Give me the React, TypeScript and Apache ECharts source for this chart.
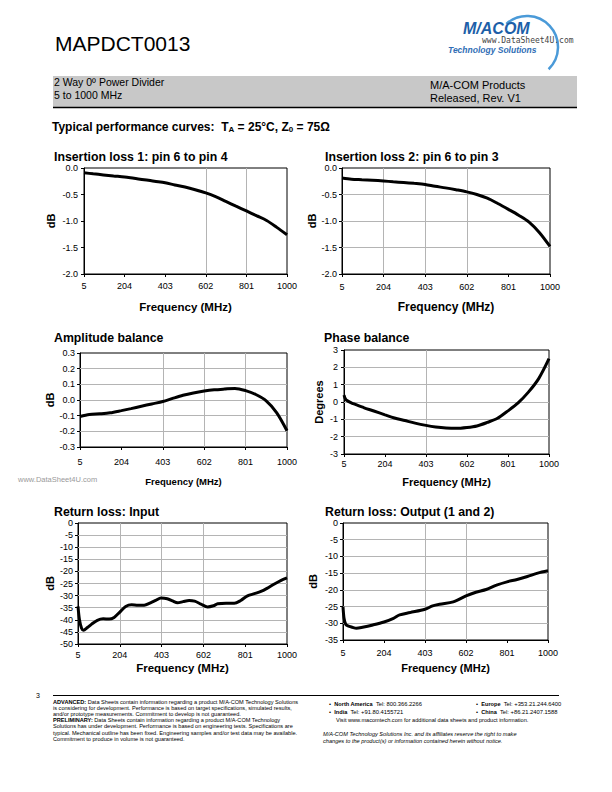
import React, { useEffect, useRef } from "react";
import * as echarts from "echarts";

// ---------- data ----------
const X_MIN = 5;
const X_TICK_LABELS = ["5", "204", "403", "602", "801", "1000"];

const IL1_FREQ = [5, 50, 100, 150, 204, 250, 300, 350, 403, 450, 500, 550, 602, 650, 700, 750, 801, 850, 900, 950, 1000];
const IL1_DB = [-0.09, -0.11, -0.13, -0.15, -0.17, -0.195, -0.22, -0.25, -0.28, -0.32, -0.36, -0.41, -0.47, -0.54, -0.63, -0.72, -0.81, -0.9, -0.99, -1.12, -1.26];

const IL2_FREQ = [5, 50, 100, 150, 204, 250, 300, 350, 403, 450, 500, 550, 602, 650, 700, 750, 801, 850, 900, 950, 1000];
const IL2_DB = [-0.19, -0.21, -0.22, -0.23, -0.245, -0.26, -0.275, -0.29, -0.31, -0.345, -0.375, -0.41, -0.45, -0.5, -0.57, -0.67, -0.78, -0.89, -1.02, -1.22, -1.48];

const AMP_FREQ = [5, 50, 100, 150, 204, 250, 300, 350, 403, 450, 500, 550, 602, 650, 700, 750, 801, 850, 900, 950, 1000];
const AMP_DB = [-0.105, -0.092, -0.088, -0.082, -0.068, -0.055, -0.04, -0.025, -0.01, 0.01, 0.03, 0.045, 0.057, 0.065, 0.07, 0.074, 0.06, 0.035, -0.005, -0.08, -0.196];

const PH_FREQ = [5, 15, 50, 100, 150, 204, 250, 300, 350, 403, 450, 500, 550, 602, 650, 700, 750, 801, 850, 900, 950, 1000];
const PH_DEG = [0.4, 0.12, -0.1, -0.32, -0.52, -0.74, -0.92, -1.07, -1.22, -1.35, -1.44, -1.5, -1.52, -1.47, -1.38, -1.18, -0.94, -0.51, -0.05, 0.57, 1.35, 2.5];

const RLI_FREQ = [5, 12, 22, 31, 50, 70, 97, 125, 153, 177, 204, 232, 260, 290, 320, 350, 375, 400, 430, 455, 479, 505, 534, 560, 590, 622, 650, 670, 710, 749, 780, 812, 845, 876, 905, 940, 970, 1000];
const RLI_DB = [-34.5, -40, -43.5, -44.3, -43.2, -41.8, -40.2, -39.6, -39.7, -39, -36.8, -34.5, -33.8, -34, -34, -33, -32, -31, -31.3, -32.2, -33, -32.5, -32, -32.3, -33.5, -34.7, -34.2, -33.4, -33.2, -33.2, -32, -30.1, -29.2, -28.3, -27, -25.2, -23.8, -22.7];

const RLO_FREQ = [5, 10, 18, 29, 50, 70, 100, 150, 204, 250, 280, 330, 403, 440, 474, 540, 602, 650, 700, 750, 801, 850, 900, 950, 1000];
const RLO_DB = [-25, -28.5, -30.3, -30.8, -31.2, -31.5, -31.2, -30.5, -29.6, -28.5, -27.5, -26.8, -25.8, -24.8, -24.3, -23.6, -21.8, -20.7, -19.9, -18.6, -17.6, -16.9, -16.0, -15.0, -14.3];

// gridlines visible in each reference chart
const GRID_X = [[602, 801], [204, 403, 602], [403, 602, 801], [403], [204, 403, 602], [403, 602]];
const GRID_Y = [[], [-0.5, -1.0, -1.5], [0.2, 0.1, 0.0, -0.1, -0.2], [2, 1, 0, -1, -2], [-5, -10, -15, -20, -25, -30, -35, -40, -45], [-5, -10, -15, -20, -25, -30]];

const TITLES = [
  "Insertion loss 1: pin 6 to pin 4",
  "Insertion loss 2: pin 6 to pin 3",
  "Amplitude balance",
  "Phase balance",
  "Return loss: Input",
  "Return loss: Output (1 and 2)",
];
const Y_NAMES = ["dB", "dB", "dB", "Degrees", "dB", "dB"];
const X_NAME = "Frequency (MHz)";

const FONT = "Arial, 'Liberation Sans', Helvetica, sans-serif";

export default function App() {
  const ref = useRef<HTMLDivElement>(null);

  useEffect(() => {
    if (!ref.current) return;
    const chart = echarts.init(ref.current, undefined, { renderer: "svg" });

    const charts = [
      { f: IL1_FREQ, v: IL1_DB, yMin: -2, yMax: 0, yInt: 0.5, dec: 1, grid: { left: 84, top: 168, width: 203, height: 106 }, yGap: 28, xGap: 27, xFont: 11.5, xLabMargin: 7, yLabMargin: 6, tx: 54, ty: 156.5 },
      { f: IL2_FREQ, v: IL2_DB, yMin: -2, yMax: 0, yInt: 0.5, dec: 1, grid: { left: 342, top: 168, width: 208, height: 106 }, yGap: 25, xGap: 27, xFont: 12, xLabMargin: 8, yLabMargin: 5, tx: 325, ty: 156.5 },
      { f: AMP_FREQ, v: AMP_DB, yMin: -0.3, yMax: 0.3, yInt: 0.1, dec: 1, grid: { left: 80, top: 353, width: 207, height: 94 }, yGap: 24, xGap: 29, xFont: 9.5, xLabMargin: 10, yLabMargin: 5, tx: 54, ty: 337.5 },
      { f: PH_FREQ, v: PH_DEG, yMin: -3, yMax: 3, yInt: 1, dec: 0, grid: { left: 344, top: 350, width: 205, height: 104 }, yGap: 20, xGap: 22, xFont: 11, xLabMargin: 5, yLabMargin: 6, tx: 324, ty: 337.5 },
      { f: RLI_FREQ, v: RLI_DB, yMin: -50, yMax: 0, yInt: 5, dec: 0, grid: { left: 78, top: 523, width: 209, height: 121 }, yGap: 23, xGap: 18, xFont: 11.5, xLabMargin: 6, yLabMargin: 5, tx: 54, ty: 511.5 },
      { f: RLO_FREQ, v: RLO_DB, yMin: -35, yMax: 0, yInt: 5, dec: 0, grid: { left: 343, top: 523, width: 205, height: 117 }, yGap: 25, xGap: 22, xFont: 11, xLabMargin: 8, yLabMargin: 5, tx: 325, ty: 511.5 },
    ];

    const fmtY = (dec: number) => (val: number) => {
      const r = Math.abs(val) < 1e-9 ? 0 : val;
      return dec > 0 ? r.toFixed(dec) : String(Math.round(r));
    };

    const grids = charts.map((c) => ({
      ...c.grid,
      show: true,
      borderColor: "#000",
      borderWidth: 1,
      containLabel: false,
    }));

    const xAxes = charts.map((c, i) => ({
      type: "value",
      gridIndex: i,
      min: 0,
      max: 1000 - X_MIN,
      interval: 199,
      axisLine: { show: true, onZero: false, lineStyle: { color: "#000", width: 1 } },
      axisTick: { show: true, length: 3, lineStyle: { color: "#000" } },
      axisLabel: {
        fontSize: 9,
        color: "#000",
        fontFamily: FONT,
        margin: c.xLabMargin,
        formatter: (_v: number, idx: number) => X_TICK_LABELS[idx] ?? "",
      },
      splitLine: { show: false },
      name: X_NAME,
      nameLocation: "middle",
      nameGap: c.xGap,
      nameTextStyle: { fontSize: c.xFont, fontWeight: "bold", color: "#000", fontFamily: FONT },
    }));

    const yAxes = charts.map((c, i) => ({
      type: "value",
      gridIndex: i,
      min: c.yMin,
      max: c.yMax,
      interval: c.yInt,
      axisLine: { show: true, onZero: false, lineStyle: { color: "#000", width: 1 } },
      axisTick: { show: true, length: 3, lineStyle: { color: "#000" } },
      axisLabel: { fontSize: 9, color: "#000", fontFamily: FONT, margin: c.yLabMargin, formatter: fmtY(c.dec) },
      splitLine: { show: false },
      name: Y_NAMES[i],
      nameLocation: "middle",
      nameRotate: 90,
      nameGap: c.yGap,
      nameTextStyle: { fontSize: 11, fontWeight: "bold", color: "#000", fontFamily: FONT },
    }));

    const series = charts.map((c, i) => ({
      type: "line",
      xAxisIndex: i,
      yAxisIndex: i,
      data: c.f.map((f, k) => [f - X_MIN, c.v[k]]),
      showSymbol: false,
      smooth: 0.3,
      z: 3,
      lineStyle: { color: "#000", width: 3 },
      markLine: {
        silent: true,
        z: 1,
        symbol: ["none", "none"],
        label: { show: false },
        lineStyle: { color: "#b4b4b4", type: "solid", width: 1 },
        data: [
          ...GRID_X[i].map((x) => ({ xAxis: x - X_MIN })),
          ...GRID_Y[i].map((y) => ({ yAxis: y })),
        ],
      },
    }));

    const titleTexts = charts.map((c, i) => ({
      type: "text",
      x: c.tx,
      y: c.ty,
      style: { text: TITLES[i], fill: "#000", font: `bold 12.3px ${FONT}`, verticalAlign: "middle" },
    }));

    const footLeft = [
      "{b|ADVANCED:} Data Sheets contain information regarding a product M/A-COM Technology Solutions",
      "is considering for development. Performance is based on target specifications, simulated results,",
      "and/or prototype measurements. Commitment to develop is not guaranteed.",
      "{b|PRELIMINARY:} Data Sheets contain information regarding a product M/A-COM Technology",
      "Solutions has under development. Performance is based on engineering tests. Specifications are",
      "typical. Mechanical outline has been fixed. Engineering samples and/or test data may be available.",
      "Commitment to produce in volume is not guaranteed.",
    ];

    const bold58 = { b: { fontSize: 5.6, fontWeight: "bold", fontFamily: FONT, color: "#000", lineHeight: 6 } };

    const graphic: any[] = [
      // header
      { type: "text", x: 55, y: 43, style: { text: "MAPDCT0013", font: `21px ${FONT}`, fill: "#000", verticalAlign: "middle" } },
      { type: "rect", shape: { x: 53, y: 76, width: 524, height: 31 }, style: { fill: "#c8c8c8" } },
      { type: "line", shape: { x1: 53, y1: 107.5, x2: 577, y2: 107.5 }, style: { stroke: "#000", lineWidth: 1.5 } },
      { type: "text", x: 54, y: 82, style: { text: "2 Way 0º Power Divider", font: `10.5px ${FONT}`, fill: "#000", verticalAlign: "middle" } },
      { type: "text", x: 54, y: 95, style: { text: "5 to 1000 MHz", font: `10.5px ${FONT}`, fill: "#000", verticalAlign: "middle" } },
      { type: "text", x: 430, y: 85, style: { text: "M/A-COM Products", font: `11px ${FONT}`, fill: "#000", verticalAlign: "middle" } },
      { type: "text", x: 430, y: 98, style: { text: "Released, Rev. V1", font: `11px ${FONT}`, fill: "#000", verticalAlign: "middle" } },
      // logo
      { type: "arc", shape: { cx: 527, cy: 47, r: 31, startAngle: -2.3, endAngle: 0.8 }, style: { stroke: "#4a9ad8", lineWidth: 2.5, fill: "none" } },
      { type: "text", x: 463, y: 28, style: { text: "M/ACOM", font: `italic bold 16px ${FONT}`, fill: "#1d5fa8", verticalAlign: "middle" } },
      { type: "text", x: 448, y: 50, style: { text: "Technology Solutions", font: `italic bold 8.5px ${FONT}`, fill: "#2f6db5", verticalAlign: "middle" } },
      { type: "text", x: 482, y: 40.5, style: { text: "www.DataSheet4U.com", font: `8px 'DejaVu Sans Mono', monospace`, fill: "#444", verticalAlign: "middle" } },
      // subtitle
      {
        type: "text",
        x: 52,
        y: 127,
        style: {
          text: "{b|Typical performance curves:  T}{s|A}{b| = 25°C, Z}{s|0}{b| = 75Ω}",
          verticalAlign: "middle",
          rich: {
            b: { fontSize: 12, fontWeight: "bold", fontFamily: FONT, color: "#000" },
            s: { fontSize: 8, fontWeight: "bold", fontFamily: FONT, color: "#000", verticalAlign: "bottom" },
          },
        },
      },
      ...titleTexts,
      { type: "text", x: 18, y: 479, style: { text: "www.DataSheet4U.com", font: `7.5px ${FONT}`, fill: "#9a9a9a", verticalAlign: "middle" } },
      // footer
      { type: "text", x: 36, y: 695, style: { text: "3", font: `7px ${FONT}`, fill: "#000", verticalAlign: "middle" } },
      { type: "line", shape: { x1: 53, y1: 695.5, x2: 559, y2: 695.5 }, style: { stroke: "#000", lineWidth: 1 } },
      ...footLeft.map((t, k) => ({
        type: "text",
        x: 53,
        y: 702 + k * 6.1,
        style: {
          text: t,
          verticalAlign: "middle",
          font: `5.6px ${FONT}`,
          fill: "#000",
          lineHeight: 6,
          rich: bold58,
        },
      })),
      {
        type: "text",
        x: 329,
        y: 704,
        style: { text: "•  {b|North America}  Tel: 800.366.2266", verticalAlign: "middle", font: `5.8px ${FONT}`, fill: "#000", lineHeight: 6, rich: bold58 },
      },
      {
        type: "text",
        x: 476,
        y: 704,
        style: { text: "•  {b|Europe}  Tel: +353.21.244.6400", verticalAlign: "middle", font: `5.8px ${FONT}`, fill: "#000", lineHeight: 6, rich: bold58 },
      },
      {
        type: "text",
        x: 329,
        y: 712,
        style: { text: "•  {b|India}  Tel: +91.80.4155721", verticalAlign: "middle", font: `5.8px ${FONT}`, fill: "#000", lineHeight: 6, rich: bold58 },
      },
      {
        type: "text",
        x: 476,
        y: 712,
        style: { text: "•  {b|China}  Tel: +86.21.2407.1588", verticalAlign: "middle", font: `5.8px ${FONT}`, fill: "#000", lineHeight: 6, rich: bold58 },
      },
      { type: "text", x: 336, y: 720, style: { text: "Visit www.macomtech.com for additional data sheets and product information.", font: `5.6px ${FONT}`, fill: "#000", verticalAlign: "middle" } },
      { type: "text", x: 323, y: 734, style: { text: "M/A-COM Technology Solutions Inc. and its affiliates reserve the right to make", font: `italic 5.6px ${FONT}`, fill: "#000", verticalAlign: "middle" } },
      { type: "text", x: 323, y: 741, style: { text: "changes to the product(s) or information contained herein without notice.", font: `italic 5.6px ${FONT}`, fill: "#000", verticalAlign: "middle" } },
    ];

    chart.setOption({
      animation: false,
      backgroundColor: "#fff",
      textStyle: { fontFamily: FONT },
      grid: grids,
      xAxis: xAxes,
      yAxis: yAxes,
      series,
      graphic,
    } as any);

    return () => chart.dispose();
  }, []);

  return <div ref={ref} style={{ position: "absolute", left: 0, top: 0, width: 612, height: 792 }} />;
}
